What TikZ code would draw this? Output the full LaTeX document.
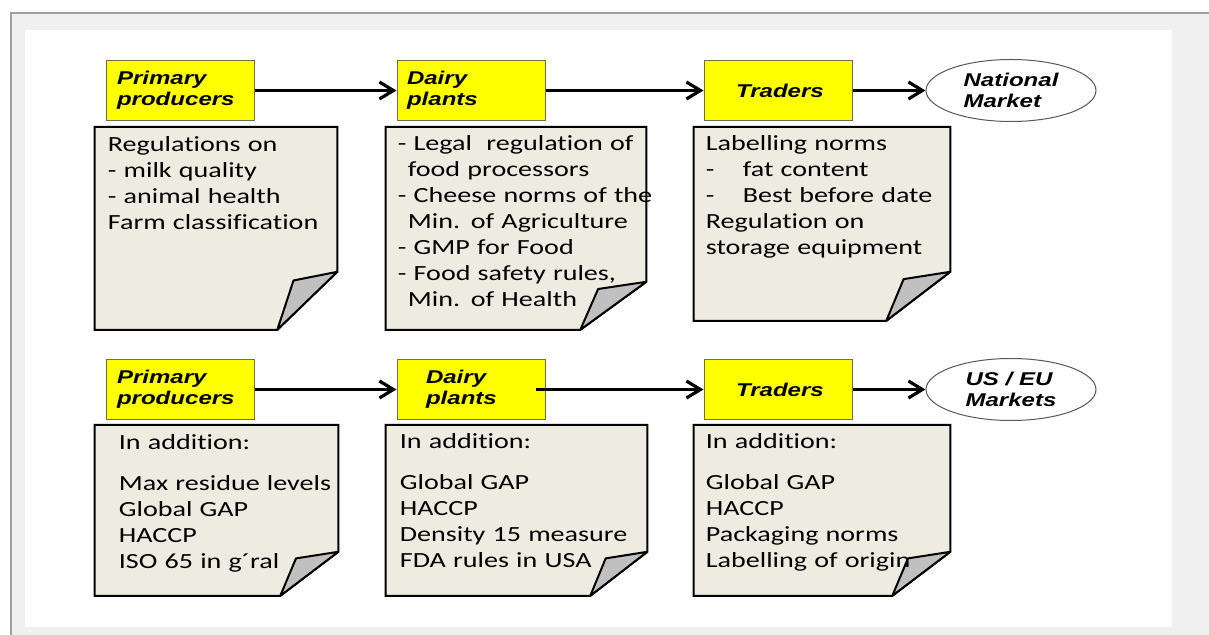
\documentclass[tikz,border=0pt]{standalone}
\usepackage{fontspec}
\usepackage{tikz}
\usetikzlibrary{positioning, arrows.meta, shapes.geometric, backgrounds}
\newfontfamily\notefam[FakeStretch=1.3, Ligatures=NoCommon]{Carlito}
\newfontfamily\labelfam[FakeStretch=1.3]{Liberation Sans}
\newcommand{\notefont}{\notefam\fontsize{10.8pt}{13pt}\selectfont}
\newcommand{\labelfont}{\labelfam\bfseries\itshape\fontsize{9.25pt}{10.5pt}\selectfont}
\newcommand{\tabdash}{\makebox[18.5pt][l]{-}}
\definecolor{pagegray}{HTML}{F0F0F0}
\definecolor{frameline}{HTML}{A0A0A0}
\definecolor{stagefill}{HTML}{FFFF00}
\definecolor{stageline}{HTML}{6E6E50}
\definecolor{paperfill}{HTML}{EEECE1}
\definecolor{foldfill}{HTML}{C0C0C0}
\definecolor{marketline}{HTML}{595959}

\begin{document}
\begin{tikzpicture}[
    x=0.5pt, y=-0.5pt,
    stage/.style={draw=stageline, fill=stagefill, line width=0.5pt,
                  minimum width=74pt, minimum height=30pt,
                  inner ysep=0pt, inner xsep=#1, text width=74pt-2*#1,
                  align=left, font=\labelfont},
    stage/.default=5.5pt,
    market/.style={ellipse, draw=marketline, fill=white, line width=0.5pt,
                   minimum width=85pt, minimum height=31pt, inner sep=0pt,
                   align=left, font=\labelfont},
    paper/.style 2 args={minimum width=#1, minimum height=#2, inner sep=0pt},
    rules/.style={anchor=base west, inner sep=0pt, text width=140pt,
                  align=left, font=\notefont},
    flow/.style={-{Straight Barb[length=7pt, width=8.5pt]}, line width=1.6pt},
]
\useasboundingbox (0,0) rectangle (1209,635);

% Page frame
\begin{scope}[on background layer]
  \fill[white] (0,0) rectangle (1209,635);
  \fill[pagegray] (11,13) rectangle (1209,635);
  \draw[frameline, line width=1pt] (11,635) -- (11,13) -- (1209,13);
  \fill[white] (25,30) rectangle (1172,627);
\end{scope}

% National chain
\node[stage, anchor=north west] (prod1) at (105.5,60) {Primary\\producers};
\node[stage=5pt, right=71pt of prod1] (dairy1) {Dairy\\plants};
\node[stage=16pt, right=79pt of dairy1] (trade1) {Traders};
\node[market, right=36.5pt of trade1] (natmkt) {National\\Market};

% Export chain
\node[stage, below=119pt of prod1] (prod2) {Primary\\producers};
\node[stage=14.5pt, right=71pt of prod2] (dairy2) {Dairy\\plants};
\node[stage=16pt, right=79pt of dairy2] (trade2) {Traders};
\node[market, right=36.5pt of trade2] (expmkt) {US / EU\\Markets};

% Papers under each stage
\node[paper={121pt}{101pt}, below=3pt of prod1.south west, anchor=north west, xshift=-5.5pt] (paper1) {};
\node[paper={130pt}{101pt}, below=3pt of dairy1.south west, anchor=north west, xshift=-5.5pt] (paper2) {};
\node[paper={128pt}{96.5pt}, below=3pt of trade1.south west, anchor=north west, xshift=-5pt] (paper3) {};
\node[paper={121.5pt}{85pt}, below=2.5pt of prod2.south west, anchor=north west, xshift=-5.5pt] (paper4) {};
\node[paper={130.5pt}{85pt}, below=2.5pt of dairy2.south west, anchor=north west, xshift=-5.5pt] (paper5) {};
\node[paper={128pt}{85pt}, below=2.5pt of trade2.south west, anchor=north west, xshift=-5pt] (paper6) {};

\begin{scope}[on background layer]
  \foreach \p/\fx/\fy in {paper1/30pt/29pt, paper2/33pt/24pt, paper3/32pt/24.5pt,
                          paper4/29pt/22pt, paper5/28.5pt/22pt, paper6/29pt/22pt} {
    \filldraw[fill=paperfill, line width=1pt]
      (\p.north west) -- (\p.north east) -- ([yshift=\fy]\p.south east)
      -- ([xshift=-\fx]\p.south east) -- (\p.south west) -- cycle;
    \filldraw[fill=foldfill, line width=1pt, line join=round]
      ([xshift=-\fx]\p.south east) -- ([xshift=-0.73*\fx, yshift=0.85*\fy]\p.south east)
      -- ([yshift=\fy]\p.south east) -- cycle;
  }
\end{scope}

% Rules texts
\node[rules] (rules1) at ([shift={(6.5pt,-12.5pt)}]paper1.north west)
     {Regulations on\\- milk quality\\- animal health\\Farm classification};
\node[rules] (rules2) at ([shift={(6pt,-12pt)}]paper2.north west)
     {- Legal~ regulation of\\\hspace*{5pt}food processors\\- Cheese norms of the\\\hspace*{5pt}Min. of Agriculture\\- GMP for Food\\- Food safety rules,\\\hspace*{5pt}Min. of Health};
\node[rules] (rules3) at ([shift={(6pt,-12pt)}]paper3.north west)
     {Labelling norms\\\tabdash fat content\\\tabdash Best before date\\Regulation on\\storage equipment};
\node[rules] (rules4) at ([shift={(12pt,-12.5pt)}]paper4.north west)
     {In addition:\\[7.5pt]Max residue levels\\Global GAP\\HACCP\\ISO 65 in g´ral};
\node[rules] (rules5) at ([shift={(7pt,-12pt)}]paper5.north west)
     {In addition:\\[7.5pt]Global GAP\\HACCP\\Density 15 measure\\FDA rules in USA};
\node[rules] (rules6) at ([shift={(6pt,-12pt)}]paper6.north west)
     {In addition:\\[7.5pt]Global GAP\\HACCP\\Packaging norms\\Labelling of origin};

% Flows
\foreach \a/\b in {prod1/dairy1, dairy1/trade1, trade1/natmkt, prod2/dairy2, trade2/expmkt} {
    \draw[flow] (\a) -- (\b);
}
\draw[flow] ([xshift=-5pt]dairy2.east) -- (trade2);

\end{tikzpicture}
\end{document}
